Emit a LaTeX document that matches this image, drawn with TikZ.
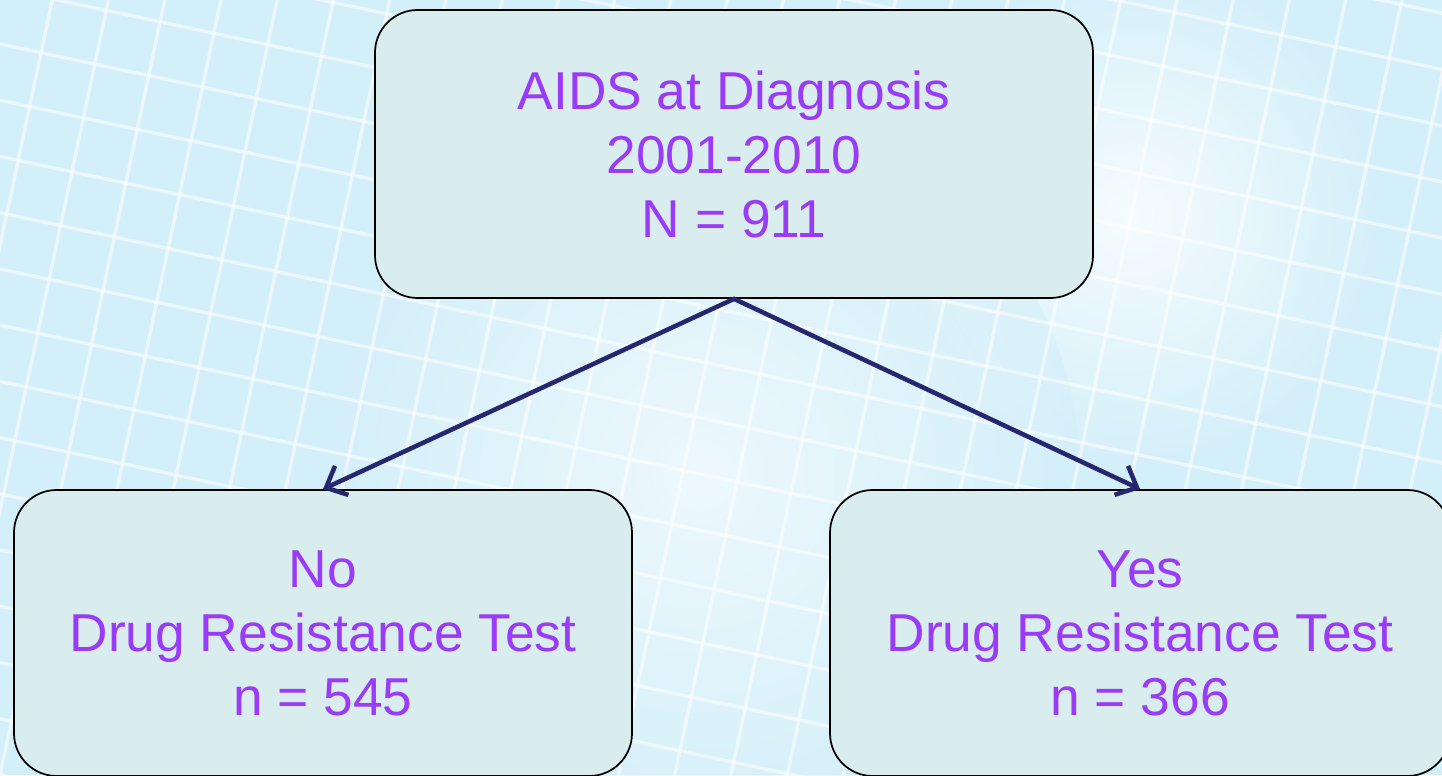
\documentclass[tikz,border=0pt]{standalone}
\usepackage{fontspec}
\setmainfont{Liberation Sans}
\usetikzlibrary{arrows.meta}
\definecolor{bgblue}{HTML}{D3EFFA}
\definecolor{boxfill}{HTML}{D9ECEE}
\definecolor{txtpurple}{HTML}{9B3BFA}
\definecolor{arrnavy}{HTML}{27276F}
\tikzset{
  flowbox/.style={draw=black, line width=1.3pt, fill=boxfill, rounded corners=32pt,
    align=center, text=txtpurple, inner sep=0pt,
    font=\fontsize{40}{48}\selectfont},
  flowarrow/.style={draw=arrnavy, line width=3.4pt, line cap=round,
    -{Straight Barb[length=13pt,width=24pt,line width=3.4pt]}}
}
\begin{document}
\begin{tikzpicture}[x=0.75pt,y=0.75pt]
  \useasboundingbox (0,0) rectangle (1442,775);
  \clip (0,0) rectangle (1442,775);
  % background
  \fill[bgblue] (0,0) rectangle (1442,775);
  \shade[inner color=white, outer color=bgblue, opacity=0.8] (1130,560) circle (260);
  \shade[inner color=white, outer color=bgblue, opacity=0.6] (700,300) circle (380);
  \begin{scope}[rotate=-12, white, line width=2.6pt, opacity=0.55]
    \foreach \i in {-8,...,34}
      \draw (\i*55,-400) -- (\i*55,1200);
    \foreach \j in {-8,...,24}
      \draw (-400,\j*55) -- (1800,\j*55);
  \end{scope}
  % boxes
  \node[flowbox, minimum width=538.5pt, minimum height=216pt] (aids) at (734,621)
    {AIDS at Diagnosis\\2001-2010\\N = 911};
  \node[flowbox, minimum width=463.5pt, minimum height=214.5pt] (notest) at (323,142)
    {No\\Drug Resistance Test\\n = 545};
  \node[flowbox, minimum width=465pt, minimum height=214.5pt] (yestest) at (1140,142)
    {Yes\\Drug Resistance Test\\n = 366};
  % arrows
  \draw[flowarrow] (aids.south) -- (notest.north);
  \draw[flowarrow] (aids.south) -- (yestest.north);
\end{tikzpicture}
\end{document}
